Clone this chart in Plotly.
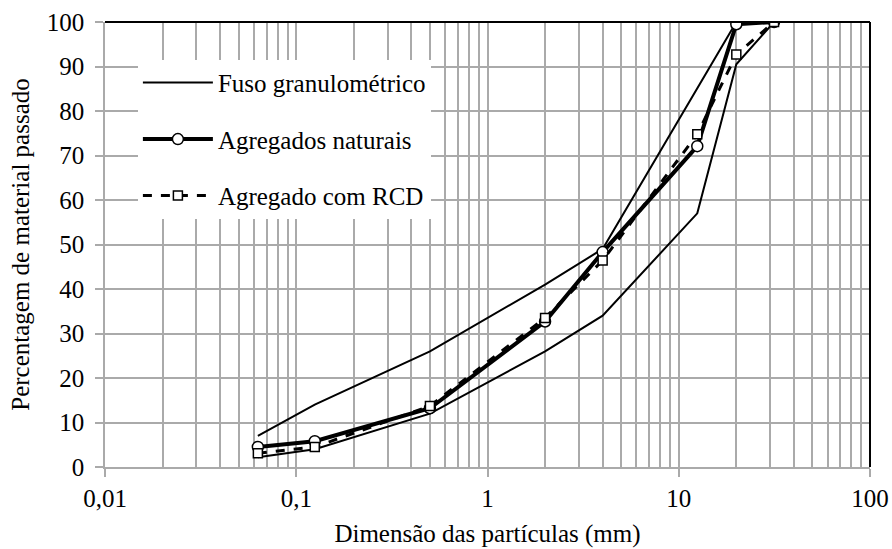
import plotly.graph_objects as go

# ---- data ----
sieves = [0.063, 0.125, 0.5, 2, 4, 12.5, 20, 31.5]
fuso_sup = [7, 14, 26, 41, 49, 85, 100, 100]
fuso_inf = [2.2, 4, 12, 26, 34, 57, 90.5, 100]
naturais = [4.5, 5.8, 13.2, 32.7, 48.3, 72.1, 99.5, 100]
rcd = [3.1, 4.5, 13.7, 33.5, 46.4, 74.8, 92.7, 100]

x_tickvals = [0.01, 0.1, 1, 10, 100]
x_ticktext = ["0,01", "0,1", "1", "10", "100"]
y_tickvals = list(range(0, 101, 10))

FONT = "Liberation Serif"
FS = 25
GRID = "#aaaaaa"

fig = go.Figure()

fig.add_trace(go.Scatter(
    x=sieves, y=fuso_sup, mode="lines", name="Fuso granulométrico",
    line=dict(color="black", width=2), legendgroup="fuso", showlegend=True))
fig.add_trace(go.Scatter(
    x=sieves, y=fuso_inf, mode="lines", name="Fuso granulométrico",
    line=dict(color="black", width=2), legendgroup="fuso", showlegend=False))
fig.add_trace(go.Scatter(
    x=sieves, y=naturais, mode="lines+markers", name="Agregados naturais",
    line=dict(color="black", width=4),
    marker=dict(symbol="circle", size=11, color="white",
                line=dict(color="black", width=1.5)),
    legendgroup="nat"))
fig.add_trace(go.Scatter(
    x=sieves, y=rcd, mode="lines+markers", name="Agregado com RCD",
    line=dict(color="black", width=3, dash="dash"),
    marker=dict(symbol="square", size=9, color="white",
                line=dict(color="black", width=1.5)),
    legendgroup="rcd"))

fig.update_xaxes(
    type="log", range=[-2, 2], automargin=False,
    tickvals=x_tickvals, ticktext=x_ticktext,
    ticks="outside", ticklen=8, tickcolor=GRID, tickwidth=1.5,
    showline=True, linecolor=GRID, linewidth=1.5,
    showgrid=True, gridcolor=GRID, gridwidth=1.5,
    minor=dict(dtick="D1", showgrid=True, gridcolor=GRID, gridwidth=1.5, ticks=""),
    tickfont=dict(family=FONT, size=FS, color="black"),
    title=dict(text="Dimensão das partículas (mm)",
               font=dict(family=FONT, size=FS, color="black"), standoff=14),
    zeroline=False,
)
fig.update_yaxes(
    range=[0, 100], automargin=False, tickvals=y_tickvals,
    ticks="outside", ticklen=8, tickcolor=GRID, tickwidth=1.5,
    ticklabelstandoff=6,
    showline=True, linecolor=GRID, linewidth=1.5,
    showgrid=True, gridcolor=GRID, gridwidth=1.5,
    tickfont=dict(family=FONT, size=FS, color="black"),
    title=dict(text="Percentagem de material passado",
               font=dict(family=FONT, size=FS, color="black"), standoff=10),
    zeroline=False,
)

# black top and right frame
fig.add_shape(type="line", xref="paper", yref="paper", x0=0, x1=1, y0=1, y1=1,
              line=dict(color="black", width=2))
fig.add_shape(type="line", xref="paper", yref="paper", x0=1, x1=1, y0=0, y1=1,
              line=dict(color="black", width=2))

fig.update_layout(
    width=892, height=549,
    margin=dict(l=105, r=22, t=22, b=82),
    plot_bgcolor="white", paper_bgcolor="white",
    font=dict(family=FONT, color="black"),
    legend=dict(
        x=0.043, y=0.915, xanchor="left", yanchor="top",
        bgcolor="white", borderwidth=0,
        font=dict(family=FONT, size=FS, color="black"),
        traceorder="grouped", tracegroupgap=21, itemwidth=70,
    ),
    showlegend=True,
)

fig.write_html("out.html")
